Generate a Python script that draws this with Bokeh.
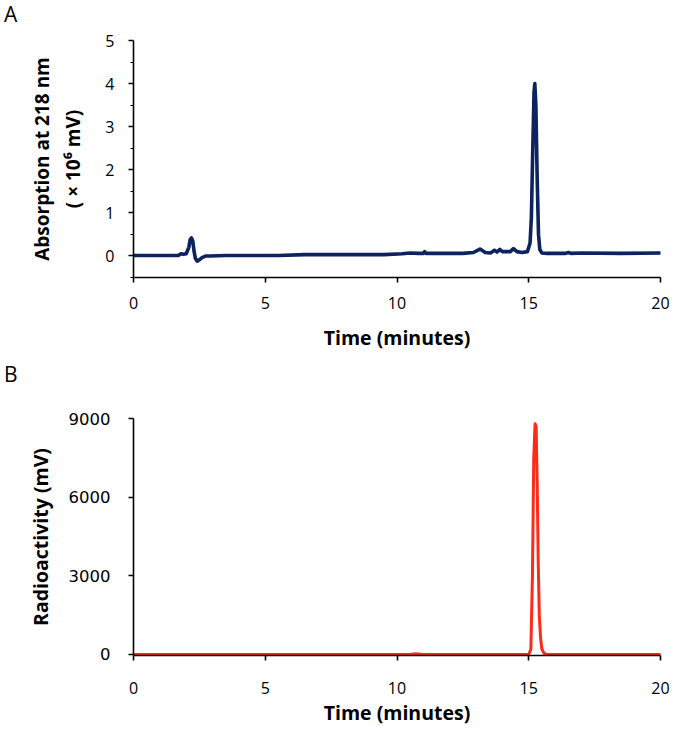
from bokeh.plotting import figure
from bokeh.layouts import column
from bokeh.models import FixedTicker, Range1d, Div
from bokeh.embed import file_html
from bokeh.resources import INLINE

# Panel A: UV absorption at 218 nm (x 10^6 mV)
time_a = [0, 1.7, 1.8, 1.9, 2.0, 2.1, 2.15, 2.2, 2.25, 2.3, 2.35, 2.42, 2.5, 2.6, 2.75, 2.9,
          3.5, 5.5, 6.5, 8.0, 9.5, 10.2, 10.5, 10.8, 11.0, 11.05, 11.1, 11.5, 12.5, 12.9,
          13.15, 13.35, 13.55, 13.7, 13.8, 13.9, 14.0, 14.2, 14.3, 14.42, 14.55, 14.75, 14.95,
          15.05, 15.1, 15.15, 15.2, 15.23, 15.27, 15.32, 15.37, 15.42, 15.5, 15.7, 16.4,
          16.5, 16.6, 17.0, 18.5, 20.0]
abs_a = [0.01, 0.01, 0.05, 0.04, 0.05, 0.2, 0.38, 0.42, 0.35, 0.1, -0.06, -0.12, -0.09, -0.04, 0.0, 0.0,
         0.01, 0.01, 0.03, 0.03, 0.03, 0.05, 0.07, 0.06, 0.06, 0.1, 0.06, 0.06, 0.06, 0.08,
         0.16, 0.08, 0.07, 0.13, 0.09, 0.15, 0.1, 0.1, 0.1, 0.17, 0.1, 0.08, 0.1,
         0.3, 0.9, 2.4, 3.8, 4.0, 3.5, 1.8, 0.5, 0.15, 0.07, 0.06, 0.06,
         0.08, 0.06, 0.07, 0.06, 0.07]

# Panel B: radioactivity (mV)
time_b = [0, 10.5, 10.7, 11.0, 15.0, 15.08, 15.14, 15.19, 15.24, 15.28, 15.32, 15.36, 15.4,
          15.45, 15.5, 15.58, 15.68, 20.0]
rad_b = [0, 0, 30, 0, 0, 200, 3000, 7500, 8800, 8700, 6500, 3500, 1500,
         600, 200, 40, 0, 0]

x_ticks = [0, 5, 10, 15, 20]
a_ticks = [0, 1, 2, 3, 4, 5]
a_minor = [-0.5, 0.5, 1.5, 2.5, 3.5, 4.5]
b_ticks = [0, 3000, 6000, 9000]

FONT = "Open Sans"


def style(p):
    p.outline_line_color = None
    p.xgrid.visible = False
    p.ygrid.visible = False
    p.background_fill_color = "white"
    p.border_fill_color = "white"
    for ax in (p.xaxis[0], p.yaxis[0]):
        ax.axis_line_color = "black"
        ax.axis_line_width = 1.6
        ax.major_tick_line_color = "black"
        ax.major_tick_line_width = 1.6
        ax.major_tick_out = 5
        ax.major_tick_in = 0
        ax.minor_tick_line_color = "black"
        ax.minor_tick_line_width = 1.2
        ax.minor_tick_out = 3
        ax.minor_tick_in = 0
        ax.major_label_text_font = FONT
        ax.major_label_text_font_size = "16px"
        ax.major_label_text_color = "black"
        ax.axis_label_text_font = FONT
        ax.axis_label_text_font_size = "19.5px"
        ax.axis_label_text_font_style = "bold"
        ax.axis_label_text_color = "black"


def letter(txt, h, pad_top):
    return Div(text=txt, width=675, height=h, margin=0,
               styles={"font-family": FONT, "font-size": "21px", "line-height": "1",
                       "color": "black", "padding-left": "4px",
                       "padding-top": f"{pad_top}px", "margin": "0"})


# ---- Panel A ----
div_a = letter("A", 28, 4)
pa = figure(width=675, height=332, output_backend="svg", toolbar_location=None,
            x_range=Range1d(0, 20), y_range=Range1d(-0.5, 5),
            min_border_left=133, min_border_right=15, min_border_top=12, min_border_bottom=83)
pa.line(time_a, abs_a, line_color="#0D235F", line_width=3.6, line_join="round", line_cap="round")
style(pa)
pa.xaxis.ticker = FixedTicker(ticks=x_ticks)
pa.yaxis.ticker = FixedTicker(ticks=a_ticks, minor_ticks=a_minor)
pa.xaxis.minor_tick_out = 0
pa.xaxis.major_label_standoff = 14
pa.yaxis.major_label_standoff = 14
pa.xaxis.axis_label = "Time (minutes)"
pa.xaxis.axis_label_standoff = 12
pa.yaxis.axis_label = "Absorption at 218 nm\n( \u00d7 10\u2076 mV)"
pa.yaxis.axis_label_standoff = 16
pa.yaxis.axis_label_text_font_size = "19px"

# ---- Panel B ----
div_b = letter("B", 46, 4)
pb = figure(width=675, height=323, output_backend="svg", toolbar_location=None,
            x_range=Range1d(0, 20), y_range=Range1d(-40, 9000),
            min_border_left=131, min_border_right=15, min_border_top=12, min_border_bottom=74)
pb.line(time_b, rad_b, line_color="#FF2A17", line_width=3, line_join="round", line_cap="round")
style(pb)
pb.xaxis.ticker = FixedTicker(ticks=x_ticks)
pb.yaxis.ticker = FixedTicker(ticks=b_ticks)
pb.xaxis.minor_tick_out = 0
pb.yaxis.minor_tick_out = 0
pb.xaxis.major_label_standoff = 21
pb.yaxis.major_label_standoff = 18
pb.yaxis.major_label_text_font = "DejaVu Sans"
pb.yaxis.major_label_text_font_size = "16.5px"
pb.xaxis.axis_label = "Time (minutes)"
pb.xaxis.axis_label_standoff = 2
pb.yaxis.axis_label = "Radioactivity (mV)"
pb.yaxis.axis_label_standoff = 12

layout = column(div_a, pa, div_b, pb, spacing=0)
open("out.html", "w").write(file_html(layout, INLINE))
